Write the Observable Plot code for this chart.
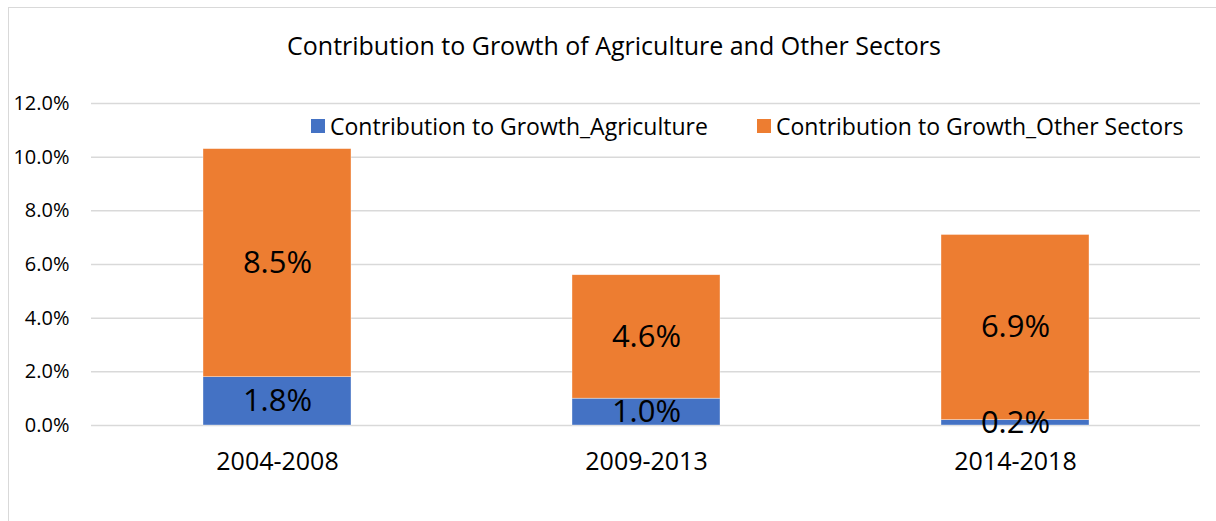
<!DOCTYPE html>
<html>
<head>
<meta charset="utf-8">
<script src="https://cdn.jsdelivr.net/npm/d3@7"></script>
<script src="https://cdn.jsdelivr.net/npm/@observablehq/plot@0.6"></script>
<style>
  html, body { margin: 0; padding: 0; background: #fff; overflow: hidden; }
  #wrap { position: relative; width: 1216px; height: 521px; overflow: hidden; font-family: "Open Sans", sans-serif; color: #000; }
  #frame { position: absolute; left: 8px; top: 7px; width: 1400px; height: 700px; border: 1px solid #d9d9d9; box-sizing: border-box; pointer-events: none; }
  #title { position: absolute; left: 614px; top: 28px; transform: translateX(-50%); white-space: nowrap; font-size: 25px; line-height: 34px; }
  .leg { position: absolute; top: 111px; display: flex; align-items: center; white-space: nowrap; font-size: 23px; line-height: 30px; }
  .sw { width: 14px; height: 14px; margin-right: 5px; }
  #chart { position: absolute; left: 0; top: 0; }
</style>
</head>
<body>
<div id="wrap">
  <div id="chart"></div>
  <div id="frame"></div>
  <div id="title"></div>
  <div id="legend"></div>
</div>
<script>
const title = "Contribution to Growth of Agriculture and Other Sectors";
const periods = ["2004-2008", "2009-2013", "2014-2018"];
const agriculture = [0.018, 0.010, 0.002];
const otherSectors = [0.085, 0.046, 0.069];
const seriesNames = ["Contribution to Growth_Agriculture", "Contribution to Growth_Other Sectors"];
const seriesColors = ["#4472C4", "#ED7D31"];
const yTicks = [0, 0.02, 0.04, 0.06, 0.08, 0.10, 0.12];

const rows = [];
periods.forEach((p, i) => {
  rows.push({period: p, series: seriesNames[0], value: agriculture[i]});
  rows.push({period: p, series: seriesNames[1], value: otherSectors[i]});
});

const pct = d => (d * 100).toFixed(1) + "%";

const chart = Plot.plot({
  width: 1216,
  height: 521,
  marginLeft: 91,
  marginRight: 16,
  marginTop: 103,
  marginBottom: 96,
  style: {fontFamily: "'Open Sans', sans-serif", color: "#000", background: "transparent"},
  x: {domain: periods, paddingInner: 0.6, paddingOuter: 0.3, label: null},
  y: {domain: [0, 0.12], label: null},
  color: {domain: seriesNames, range: seriesColors},
  marks: [
    Plot.ruleY(yTicks, {stroke: "#d9d9d9", strokeWidth: 1.5}),
    Plot.barY(rows, {x: "period", y: "value", fill: "series", order: seriesNames, stroke: "#fff", strokeWidth: 0.6, strokeOpacity: 0.6}),
    Plot.text(rows, Plot.stackY({x: "period", y: "value", z: "series", order: seriesNames, text: d => pct(d.value), fontSize: 31, fill: "#000"})),
    Plot.axisY({ticks: yTicks, tickFormat: pct, tickSize: 0, tickPadding: 22, fontSize: 20, label: null}),
    Plot.axisX({tickSize: 0, tickPadding: 27, fontSize: 25, label: null})
  ]
});
document.getElementById("chart").appendChild(chart);

document.getElementById("title").textContent = title;
const legend = document.getElementById("legend");
const legX = [311, 757];
seriesNames.forEach((name, i) => {
  const item = document.createElement("div");
  item.className = "leg";
  item.style.left = legX[i] + "px";
  const sw = document.createElement("span");
  sw.className = "sw";
  sw.style.background = seriesColors[i];
  const t = document.createElement("span");
  t.textContent = name;
  item.appendChild(sw);
  item.appendChild(t);
  legend.appendChild(item);
});
</script>
</body>
</html>
